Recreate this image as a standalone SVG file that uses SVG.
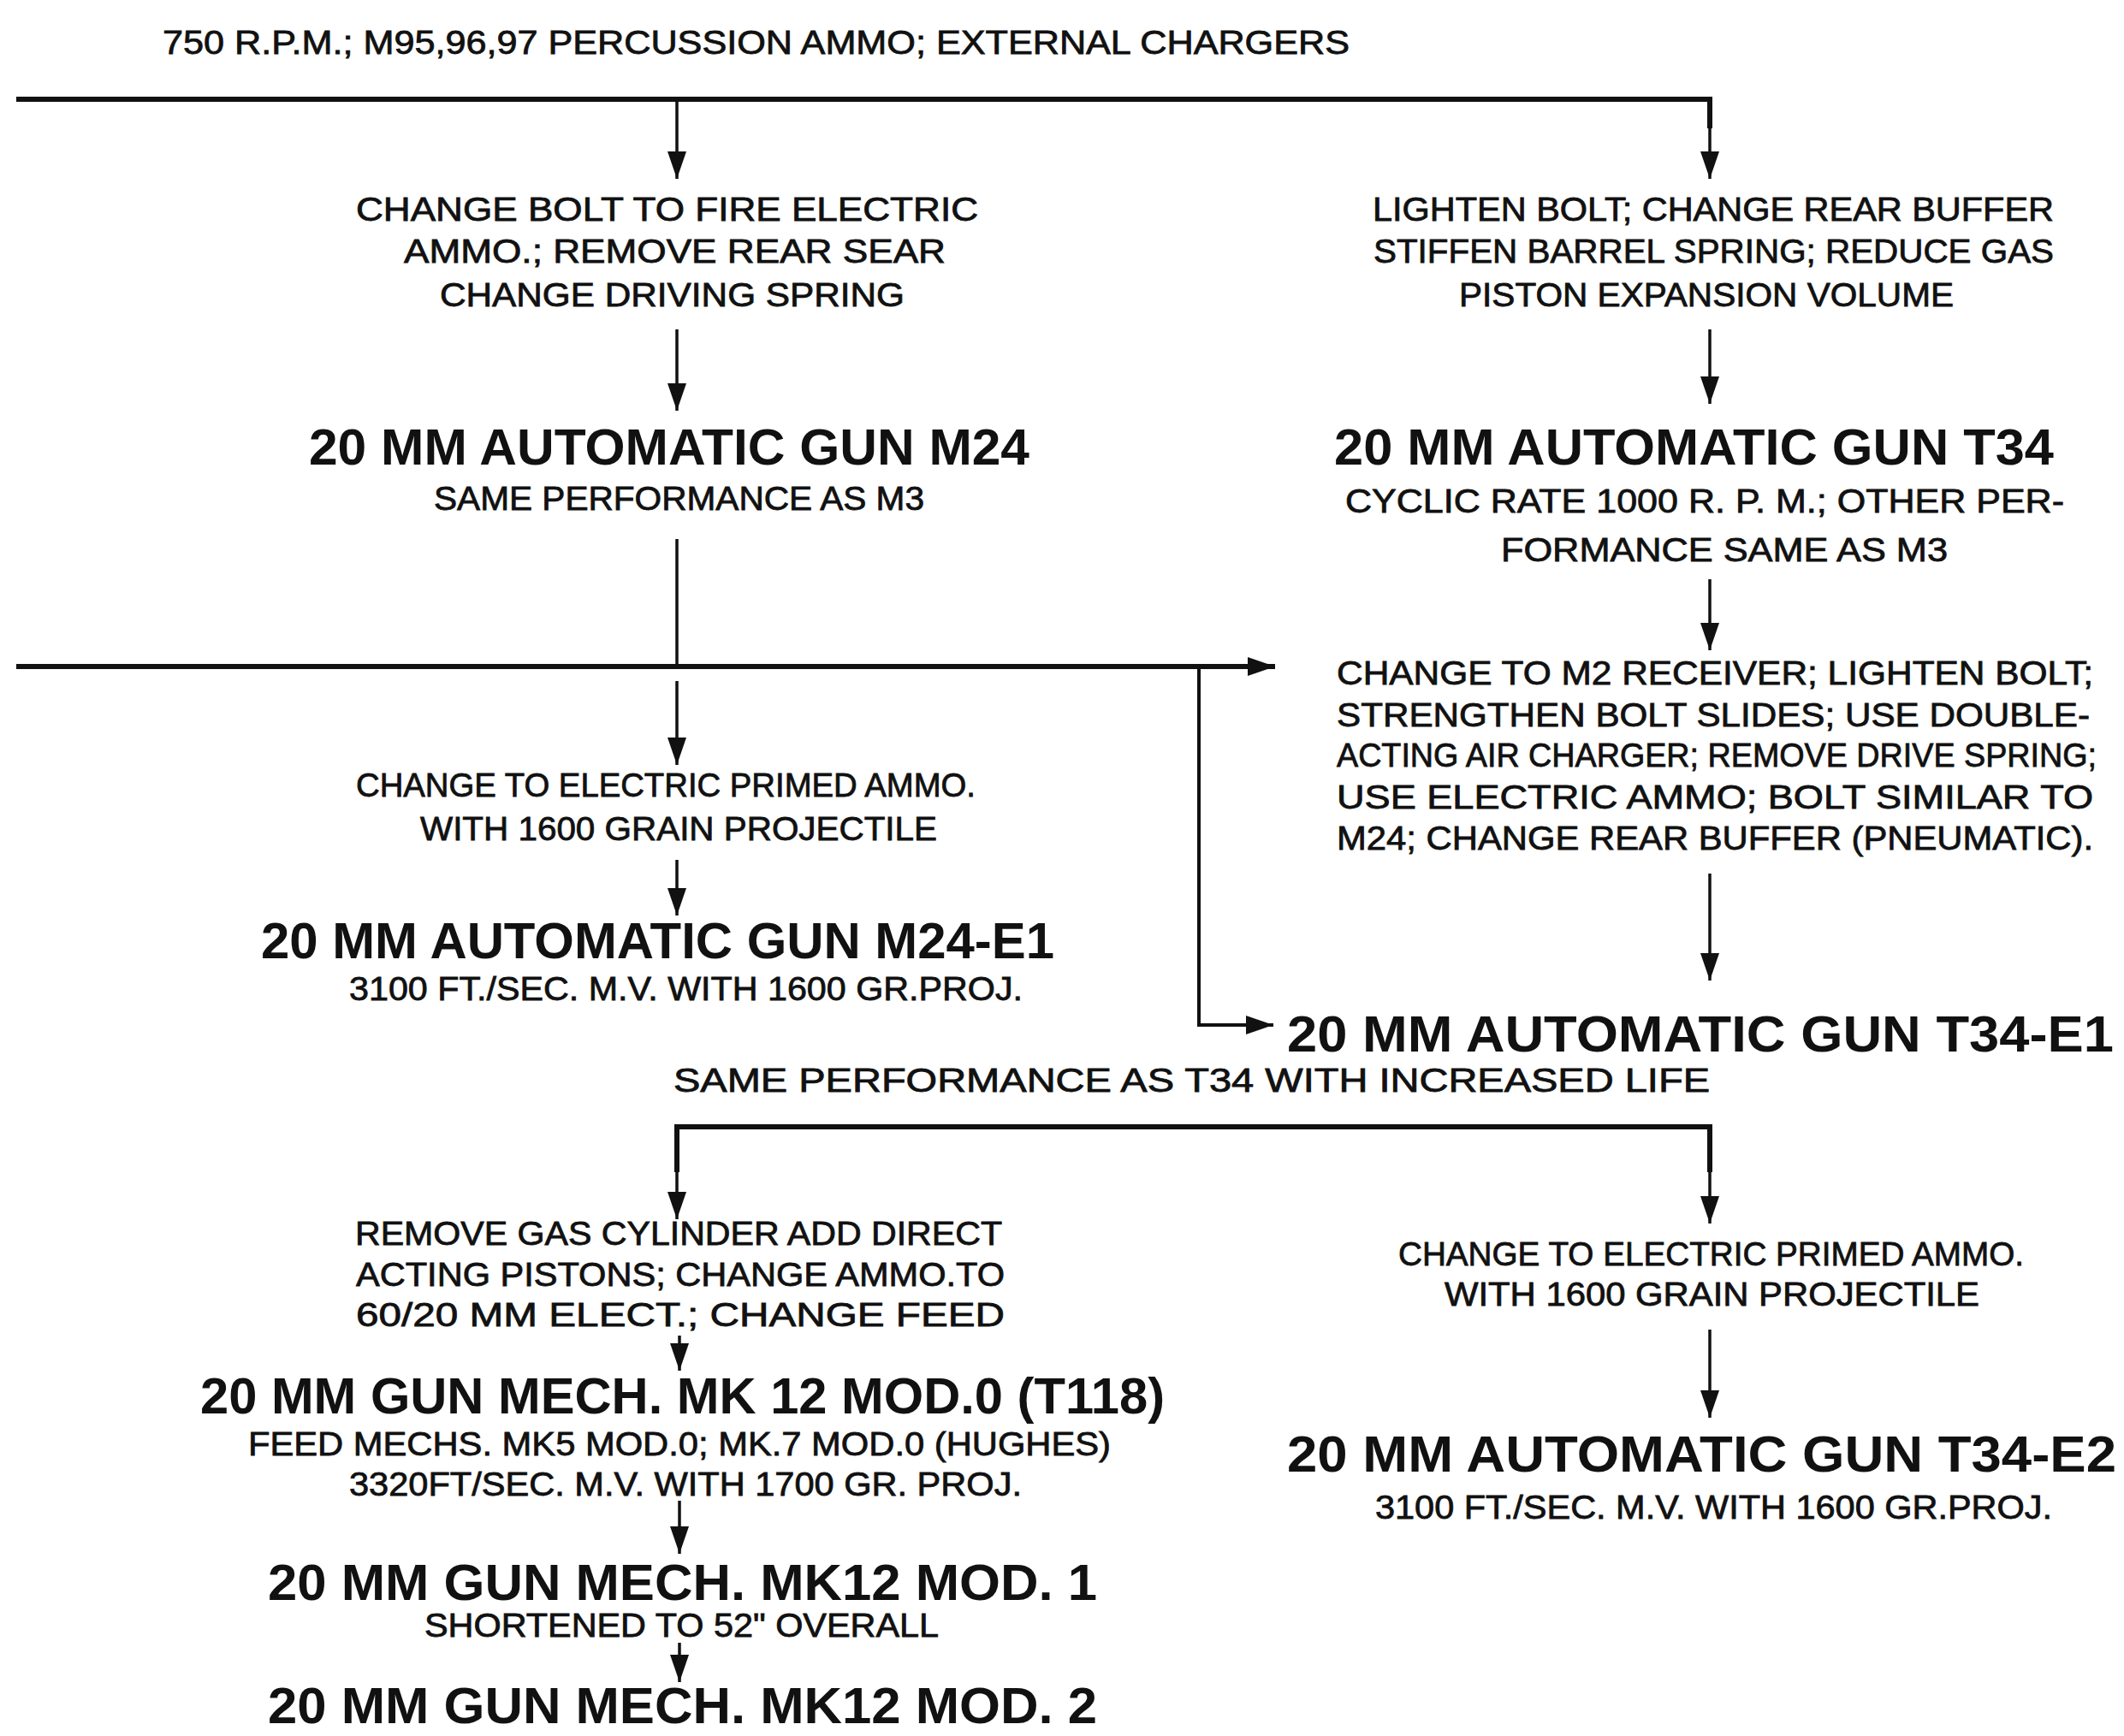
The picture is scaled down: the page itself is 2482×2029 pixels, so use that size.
<svg xmlns="http://www.w3.org/2000/svg" width="2482" height="2029" viewBox="0 0 2482 2029">
<defs>
<style>
.s{font-family:"Liberation Sans",Arial,sans-serif;font-size:38px;fill:#111;stroke:#111;stroke-width:0.8;}
.t{font-family:"Liberation Sans",Arial,sans-serif;font-size:60px;font-weight:bold;fill:#111;}
.main{fill:none;stroke:#111;stroke-width:6;}
.arr{fill:none;stroke:#111;stroke-width:3.5;marker-end:url(#ah);}
</style>
<marker id="ah" markerWidth="32" markerHeight="22" refX="32" refY="11" orient="auto" markerUnits="userSpaceOnUse"><path d="M0,0 L32,11 L0,22 Z" fill="#111"/></marker>
</defs>
<rect width="2482" height="2029" fill="#fff"/>
<g id="connectors">
<path class="main" d="M19,116 H1998 V150"/>
<path class="arr" d="M1998,148 V209"/>
<path class="arr" d="M791,116 V209"/>
<path class="arr" d="M791,385 V480"/>
<path class="arr" d="M1998,385 V472"/>
<path class="main" d="M791,630 V779" style="stroke-width:3.5"/>
<path class="main" d="M19,779 H1460"/>
<path class="arr" d="M1440,779 H1490" style="stroke-width:6"/>
<path class="main" d="M1401,779 V1198 H1450" style="stroke-width:4"/>
<path class="arr" d="M1440,1198 H1488" style="stroke-width:4"/>
<path class="arr" d="M791,796 V894"/>
<path class="arr" d="M791,1005 V1070"/>
<path class="arr" d="M1998,677 V760"/>
<path class="arr" d="M1998,1021 V1146"/>
<path class="main" d="M791,1370 V1317 H1998 V1370"/>
<path class="arr" d="M791,1360 V1425"/>
<path class="arr" d="M1998,1360 V1430"/>
<path class="arr" d="M794,1561 V1602"/>
<path class="arr" d="M794,1754 V1816"/>
<path class="arr" d="M794,1920 V1966"/>
<path class="arr" d="M1998,1554 V1657"/>
</g>
<g id="n0"><text class="s" x="190" y="63" textLength="1387" lengthAdjust="spacingAndGlyphs">750 R.P.M.; M95,96,97 PERCUSSION AMMO; EXTERNAL CHARGERS</text></g>
<g id="c1">
<text class="s" x="416" y="258" textLength="727" lengthAdjust="spacingAndGlyphs">CHANGE  BOLT  TO  FIRE  ELECTRIC</text>
<text class="s" x="472" y="307" textLength="633" lengthAdjust="spacingAndGlyphs">AMMO.;   REMOVE REAR SEAR</text>
<text class="s" x="514" y="358" textLength="543" lengthAdjust="spacingAndGlyphs">CHANGE DRIVING SPRING</text>
</g>
<g id="m24">
<text class="t" x="361" y="543" textLength="842" lengthAdjust="spacingAndGlyphs">20 MM AUTOMATIC GUN M24</text>
<text class="s" x="507" y="596" textLength="573" lengthAdjust="spacingAndGlyphs">SAME PERFORMANCE AS M3</text>
</g>
<g id="c2">
<text class="s" x="1604" y="258" textLength="796" lengthAdjust="spacingAndGlyphs">LIGHTEN BOLT; CHANGE REAR BUFFER</text>
<text class="s" x="1605" y="307" textLength="795" lengthAdjust="spacingAndGlyphs">STIFFEN BARREL SPRING; REDUCE GAS</text>
<text class="s" x="1705" y="358" textLength="578" lengthAdjust="spacingAndGlyphs">PISTON EXPANSION VOLUME</text>
</g>
<g id="t34">
<text class="t" x="1559" y="543" textLength="841" lengthAdjust="spacingAndGlyphs">20 MM AUTOMATIC GUN T34</text>
<text class="s" x="1572" y="599" textLength="840" lengthAdjust="spacingAndGlyphs">CYCLIC RATE 1000 R. P. M.; OTHER PER-</text>
<text class="s" x="1754" y="656" textLength="522" lengthAdjust="spacingAndGlyphs">FORMANCE SAME AS M3</text>
</g>
<g id="c3">
<text class="s" x="1562" y="800" textLength="884" lengthAdjust="spacingAndGlyphs">CHANGE TO M2 RECEIVER; LIGHTEN BOLT;</text>
<text class="s" x="1562" y="849" textLength="880" lengthAdjust="spacingAndGlyphs">STRENGTHEN BOLT SLIDES; USE DOUBLE-</text>
<text class="s" x="1562" y="896" textLength="888" lengthAdjust="spacingAndGlyphs">ACTING AIR CHARGER; REMOVE DRIVE SPRING;</text>
<text class="s" x="1562" y="945" textLength="884" lengthAdjust="spacingAndGlyphs">USE ELECTRIC AMMO; BOLT SIMILAR TO</text>
<text class="s" x="1562" y="993" textLength="884" lengthAdjust="spacingAndGlyphs">M24; CHANGE REAR BUFFER (PNEUMATIC).</text>
</g>
<g id="c4">
<text class="s" x="416" y="931" textLength="724" lengthAdjust="spacingAndGlyphs">CHANGE TO ELECTRIC PRIMED AMMO.</text>
<text class="s" x="491" y="982" textLength="604" lengthAdjust="spacingAndGlyphs">WITH 1600 GRAIN PROJECTILE</text>
</g>
<g id="m24e1">
<text class="t" x="305" y="1120" textLength="927" lengthAdjust="spacingAndGlyphs">20 MM AUTOMATIC GUN M24-E1</text>
<text class="s" x="408" y="1169" textLength="787" lengthAdjust="spacingAndGlyphs">3100 FT./SEC. M.V. WITH 1600 GR.PROJ.</text>
</g>
<g id="t34e1">
<text class="t" x="1504" y="1229" textLength="966" lengthAdjust="spacingAndGlyphs">20 MM AUTOMATIC GUN T34-E1</text>
<text class="s" x="787" y="1276" textLength="1211" lengthAdjust="spacingAndGlyphs">SAME PERFORMANCE AS T34 WITH INCREASED LIFE</text>
</g>
<g id="c5">
<text class="s" x="415" y="1455" textLength="756" lengthAdjust="spacingAndGlyphs">REMOVE GAS CYLINDER ADD DIRECT</text>
<text class="s" x="416" y="1503" textLength="758" lengthAdjust="spacingAndGlyphs">ACTING PISTONS; CHANGE AMMO.TO</text>
<text class="s" x="416" y="1550" textLength="758" lengthAdjust="spacingAndGlyphs">60/20 MM ELECT.; CHANGE FEED</text>
</g>
<g id="mk12m0">
<text class="t" x="234" y="1652" textLength="1127" lengthAdjust="spacingAndGlyphs">20 MM GUN MECH. MK 12 MOD.0 (T118)</text>
<text class="s" x="290" y="1701" textLength="1008" lengthAdjust="spacingAndGlyphs">FEED MECHS. MK5  MOD.0; MK.7 MOD.0 (HUGHES)</text>
<text class="s" x="408" y="1748" textLength="786" lengthAdjust="spacingAndGlyphs">3320FT/SEC. M.V. WITH 1700 GR. PROJ.</text>
</g>
<g id="mk12m1">
<text class="t" x="313" y="1870" textLength="969" lengthAdjust="spacingAndGlyphs">20 MM GUN MECH. MK12  MOD. 1</text>
<text class="s" x="496" y="1913" textLength="601" lengthAdjust="spacingAndGlyphs">SHORTENED TO 52" OVERALL</text>
</g>
<g id="mk12m2">
<text class="t" x="313" y="2014" textLength="969" lengthAdjust="spacingAndGlyphs">20 MM GUN MECH. MK12 MOD. 2</text>
</g>
<g id="c6">
<text class="s" x="1634" y="1479" textLength="731" lengthAdjust="spacingAndGlyphs">CHANGE TO ELECTRIC PRIMED AMMO.</text>
<text class="s" x="1688" y="1526" textLength="625" lengthAdjust="spacingAndGlyphs">WITH 1600 GRAIN PROJECTILE</text>
</g>
<g id="t34e2">
<text class="t" x="1504" y="1720" textLength="969" lengthAdjust="spacingAndGlyphs">20 MM AUTOMATIC GUN T34-E2</text>
<text class="s" x="1607" y="1775" textLength="791" lengthAdjust="spacingAndGlyphs">3100 FT./SEC. M.V. WITH 1600 GR.PROJ.</text>
</g>
</svg>
